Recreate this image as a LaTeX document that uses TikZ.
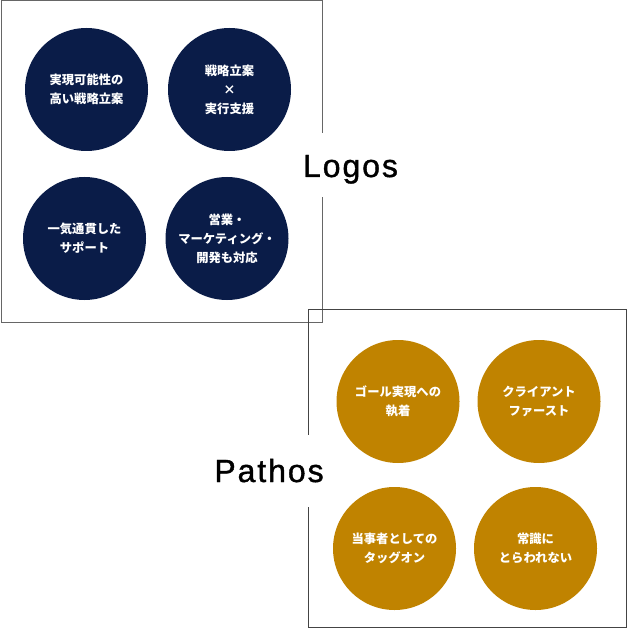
\documentclass[tikz,border=0pt]{standalone}
\usepackage{fontspec}
\newfontfamily\jpfont{Noto Sans CJK JP}
\newfontfamily\latinfont{Liberation Sans}[LetterSpace=6,FakeBold=1.2]
\definecolor{navy}{HTML}{0A1C48}
\definecolor{gold}{HTML}{C08300}
\definecolor{frameA}{HTML}{666666}
\definecolor{frameB}{HTML}{444444}
\begin{document}
\begin{tikzpicture}[x=1pt,y=-1pt,
  bubble/.style={circle, minimum size=123pt, inner sep=0pt, text=white, align=center,
    font=\jpfont\bfseries\fontsize{12.3pt}{19pt}\selectfont},
  navyb/.style={bubble, fill=navy},
  goldb/.style={bubble, fill=gold},
  title/.style={fill=white, inner sep=0pt, anchor=base, font=\latinfont\fontsize{32pt}{36pt}\selectfont}
]
\useasboundingbox (0,0) rectangle (627,636);
\draw[frameA, line width=1pt] (1,1) rectangle (322,322);
\draw[frameB, line width=1pt] (308,309.5) rectangle (626,627);
\node[navyb] (n1) at (86.5,89.5) {実現可能性の\\高い戦略立案};
\node[navyb] (n2) at (229.5,89.5) {戦略立案\\×\\実行支援};
\node[navyb] (n3) at (84.5,238.5) {一気通貫した\\サポート};
\node[navyb] (n4) at (227,238.5) {営業・\\マーケティング・\\開発も対応};
\node[goldb] (g1) at (398,401.5) {ゴール実現への\\執着};
\node[goldb] (g2) at (539,401.5) {クライアント\\ファースト};
\node[goldb] (g3) at (394.5,548.5) {当事者としての\\タッグオン};
\node[goldb] (g4) at (535.5,548.5) {常識に\\とらわれない};
\node[title, text height=44pt, text depth=20pt] (logos) at (350.5,177) {Logos};
\node[title, text height=47pt, text depth=25pt] (pathos) at (269,482) {Pathos};
\end{tikzpicture}
\end{document}
